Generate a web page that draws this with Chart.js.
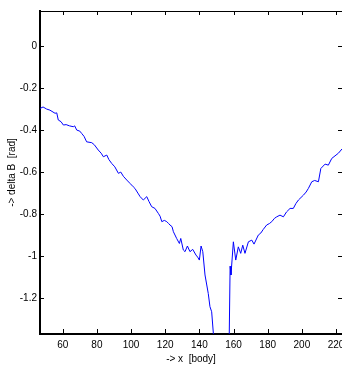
<!DOCTYPE html>
<html>
<head>
<meta charset="utf-8">
<script src="https://cdn.jsdelivr.net/npm/chart.js"></script>
<style>
  html,body{margin:0;padding:0;background:#fff;}
  #wrap{width:342px;height:365px;position:relative;}
</style>
</head>
<body>
<div id="wrap"><canvas id="c"></canvas></div>
<script>
// ---- data ----
const XS = [46.7,48.5,50.6,52.5,55.5,56.5,57.4,59,60.4,62,64,66.2,67,68.2,70,71.1,72.5,74,77,78.5,
  80.8,82.5,83.8,85.8,87,88.7,90.5,92.6,94,95.5,97.5,99.4,101.3,102.3,104,105.3,107.2,109.2,110.5,112.1,
  114,116,117,118,119.5,120.9,122,122.8,124,124.8,126.7,128.3,129.1,130.6,131.6,133,134.5,136.1,138,139,
  140,141,142,143.3,145.2,146.2,147.2,148.2,149.5,153,156.5,157.5,158,158.5,159.9,161.3,162.8,164.2,165.4,166.7,
  168.7,170.7,172,174.5,176,177.4,179.4,181,182.4,184,185.3,187.2,189.2,191,193.1,195,196.5,198,200.9,202.5,
  203.8,205.8,207.5,209.7,211.1,213.6,215.5,217.5,220,221.4,223.5];
const YS = [-0.297,-0.29,-0.30,-0.305,-0.32,-0.318,-0.352,-0.36,-0.376,-0.374,-0.38,-0.384,-0.38,-0.40,-0.405,-0.416,-0.43,-0.456,-0.46,-0.47,
  -0.495,-0.51,-0.527,-0.519,-0.54,-0.559,-0.575,-0.606,-0.60,-0.62,-0.638,-0.654,-0.670,-0.678,-0.70,-0.717,-0.733,-0.717,-0.74,-0.765,
  -0.773,-0.797,-0.81,-0.836,-0.83,-0.836,-0.845,-0.852,-0.86,-0.884,-0.916,-0.94,-0.916,-0.971,-0.979,-0.952,-0.979,-0.968,-0.995,-1.005,
  -1.019,-0.952,-0.979,-1.09,-1.178,-1.241,-1.265,-1.37,-1.6,-1.8,-1.6,-1.37,-1.048,-1.09,-0.932,-1.019,-0.956,-0.987,-0.948,-0.987,
  -0.932,-0.924,-0.943,-0.9,-0.89,-0.873,-0.852,-0.845,-0.836,-0.82,-0.813,-0.805,-0.813,-0.79,-0.773,-0.773,-0.75,-0.733,-0.71,-0.695,
  -0.678,-0.646,-0.64,-0.646,-0.583,-0.562,-0.567,-0.535,-0.519,-0.51,-0.49];
const XTICKS = [60,80,100,120,140,160,180,200,220];
const YTICKS = [0,-0.2,-0.4,-0.6,-0.8,-1,-1.2];
const X_MIN = 46.7, X_MAX = 223.5;
const Y_MIN = -1.371, Y_MAX = 0.167;

// ---- inward ticks + top frame line ----
const frame = {
  id:'frame',
  afterDraw(chart){
    const ctx = chart.ctx, a = chart.chartArea;
    const xs = chart.scales.x, ys = chart.scales.y;
    ctx.save();
    ctx.strokeStyle = '#000';
    ctx.lineWidth = 1;
    ctx.beginPath();
    ctx.moveTo(a.left, a.top + 0.5); ctx.lineTo(a.right, a.top + 0.5);
    XTICKS.forEach(v=>{
      const p = Math.round(xs.getPixelForValue(v)) + 0.5;
      ctx.moveTo(p, a.bottom); ctx.lineTo(p, a.bottom - 5);
      ctx.moveTo(p, a.top); ctx.lineTo(p, a.top + 4);
    });
    YTICKS.forEach(v=>{
      const p = Math.round(ys.getPixelForValue(v)) + 0.5;
      ctx.moveTo(a.left, p); ctx.lineTo(a.left + 4, p);
      ctx.moveTo(a.right, p); ctx.lineTo(a.right - 4, p);
    });
    ctx.stroke();
    ctx.restore();
  }
};

const FONT = {family:'"Liberation Sans", Arial, Helvetica, sans-serif', size:10};

new Chart(document.getElementById('c'), {
  type:'line',
  data:{
    datasets:[{
      data: XS.map((x,i)=>({x:x, y:YS[i]})),
      borderColor:'#0000ff',
      borderWidth:1,
      pointRadius:0,
      tension:0,
      fill:false
    }]
  },
  options:{
    responsive:true, maintainAspectRatio:false, animation:false, devicePixelRatio:1,
    layout:{padding:{top:11, right:0, left:0, bottom:0}},
    plugins:{legend:{display:false}, tooltip:{enabled:false}},
    scales:{
      x:{
        type:'linear', min:X_MIN, max:X_MAX,
        afterBuildTicks: s => { s.ticks = XTICKS.map(v=>({value:v})); },
        afterFit: s => { s.height = 31; s.paddingLeft = 0; s.paddingRight = 0; },
        grid:{drawOnChartArea:false, drawTicks:false},
        border:{display:true, color:'#000', width:2},
        ticks:{color:'#000', font:FONT, padding:5, maxRotation:0, autoSkip:false},
        title:{display:true, text:'-> x  [body]', color:'#000', font:FONT, padding:{top:0,bottom:0}}
      },
      y:{
        type:'linear', min:Y_MIN, max:Y_MAX,
        afterBuildTicks: s => { s.ticks = YTICKS.map(v=>({value:v})); },
        afterFit: s => { s.width = 40; s.paddingTop = 0; s.paddingBottom = 0; },
        grid:{drawOnChartArea:false, drawTicks:false},
        border:{display:true, color:'#000', width:2},
        ticks:{color:'#000', font:FONT, padding:3, autoSkip:false,
          callback: v => String(v)},
        title:{display:true, text:'-> delta B  [rad]', color:'#000', font:FONT, padding:{top:6,bottom:0}}
      }
    }
  },
  plugins:[frame]
});
</script>
</body>
</html>
